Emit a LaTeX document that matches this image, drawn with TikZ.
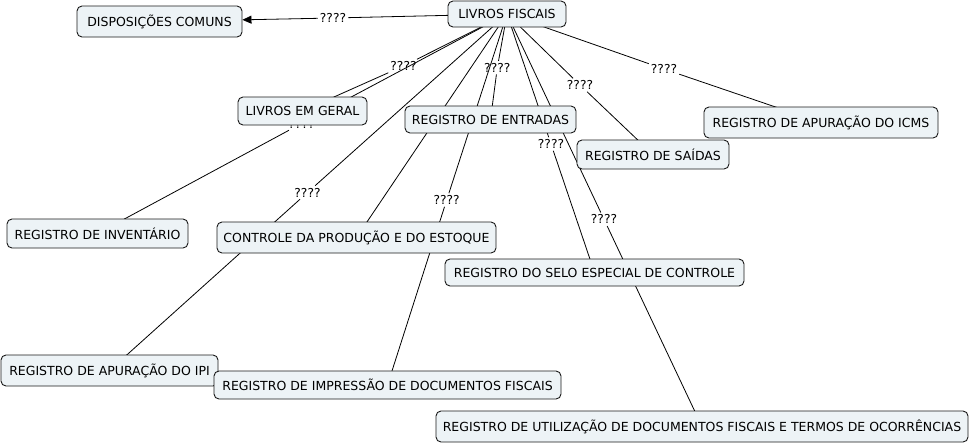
\documentclass[tikz,border=0pt]{standalone}
\usepackage{fontspec}
\setmainfont{DejaVu Sans}
\usetikzlibrary{arrows.meta}
\definecolor{boxfill}{RGB}{237,243,246}
\definecolor{boxline}{RGB}{25,25,25}
\tikzset{
  concept/.style={draw=boxline, fill=boxfill, rounded corners=5pt, line width=0.9pt,
    inner sep=0pt, font=\fontsize{12.5}{14}\selectfont, text=black},
  phrase/.style={inner sep=2pt, font=\fontsize{12.3}{14}\selectfont, text=black},
  link/.style={draw=black, line width=0.8pt},
  arrowlink/.style={link, -{Triangle[length=9pt,width=8pt]}}
}
\begin{document}
\begin{tikzpicture}[x=1pt,y=-1pt]
\useasboundingbox (0,0) rectangle (972,445);
% concept centres
\path
  (507,14) coordinate (cLF)
  (159.5,21.5) coordinate (cDC)
  (302.5,111) coordinate (cLEG)
  (490.5,119.5) coordinate (cRE)
  (653,154.5) coordinate (cSAI)
  (821,122.5) coordinate (cICMS)
  (97.5,233.5) coordinate (cINV)
  (356.5,237.5) coordinate (cCPE)
  (594.5,272.5) coordinate (cSELO)
  (109.5,370.5) coordinate (cIPI)
  (387.5,385) coordinate (cIMP)
  (702,426.5) coordinate (cUTIL);
% linking phrases
\node[phrase] (lDC) at (333,18) {????};
\node[phrase] (lLEG) at (403.5,66) {????};
\node[phrase] (lINV) at (301.5,123.5) {????};
\node[phrase] (lIPI) at (307.5,192.5) {????};
\node[phrase] (lRE) at (497.3,67.7) {????};
\node[phrase] (lIMP) at (446.7,200) {????};
\node[phrase] (lSELO) at (551,144) {????};
\node[phrase] (lUTIL) at (604,219.3) {????};
\node[phrase] (lSAI) at (580,85) {????};
\node[phrase] (lICMS) at (664,69) {????};
% connectors (drawn below the concepts)
\draw[link] (cLF) -- (lDC);
\draw[link] (cLF) -- (lLEG);  \draw[link] (lLEG) -- (cLEG);
\draw[link] (cLF) -- (lINV);  \draw[link] (lINV) -- (cINV);
\draw[link] (cLF) -- (lIPI);  \draw[link] (lIPI) -- (cIPI);
\draw[link] (cLF) -- (cCPE);
\draw[link] (cLF) -- (lRE);   \draw[link] (lRE) -- (cRE);
\draw[link] (cLF) -- (lIMP);  \draw[link] (lIMP) -- (cIMP);
\draw[link] (cLF) -- (lSELO); \draw[link] (lSELO) -- (cSELO);
\draw[link] (cLF) -- (lUTIL); \draw[link] (lUTIL) -- (cUTIL);
\draw[link] (cLF) -- (lSAI);  \draw[link] (lSAI) -- (cSAI);
\draw[link] (cLF) -- (lICMS); \draw[link] (lICMS) -- (cICMS);
% concepts
\node[concept, minimum width=118pt, minimum height=26pt] (LF) at (cLF) {LIVROS FISCAIS};
\node[concept, minimum width=165pt, minimum height=31pt] (DC) at (cDC) {DISPOSIÇÕES COMUNS};
\node[concept, minimum width=129pt, minimum height=28pt] (LEG) at (cLEG) {LIVROS EM GERAL};
\node[concept, minimum width=171pt, minimum height=27pt] (RE) at (cRE) {REGISTRO DE ENTRADAS};
\node[concept, minimum width=152pt, minimum height=29pt] (SAI) at (cSAI) {REGISTRO DE SAÍDAS};
\node[concept, minimum width=234pt, minimum height=31pt] (ICMS) at (cICMS) {REGISTRO DE APURAÇÃO DO ICMS};
\node[concept, minimum width=181pt, minimum height=29pt] (INV) at (cINV) {REGISTRO DE INVENTÁRIO};
\node[concept, minimum width=279pt, minimum height=31pt] (CPE) at (cCPE) {CONTROLE DA PRODUÇÃO E DO ESTOQUE};
\node[concept, minimum width=299pt, minimum height=27pt] (SELO) at (cSELO) {REGISTRO DO SELO ESPECIAL DE CONTROLE};
\node[concept, minimum width=217pt, minimum height=31pt] (IPI) at (cIPI) {REGISTRO DE APURAÇÃO DO IPI};
\node[concept, minimum width=347pt, minimum height=28pt] (IMP) at (cIMP) {REGISTRO DE IMPRESSÃO DE DOCUMENTOS FISCAIS};
\node[concept, minimum width=532pt, minimum height=31pt] (UTIL) at (cUTIL) {REGISTRO DE UTILIZAÇÃO DE DOCUMENTOS FISCAIS E TERMOS DE OCORRÊNCIAS};
% arrow to DISPOSIÇÕES COMUNS
\draw[arrowlink] (lDC) -- (DC);
\end{tikzpicture}
\end{document}
